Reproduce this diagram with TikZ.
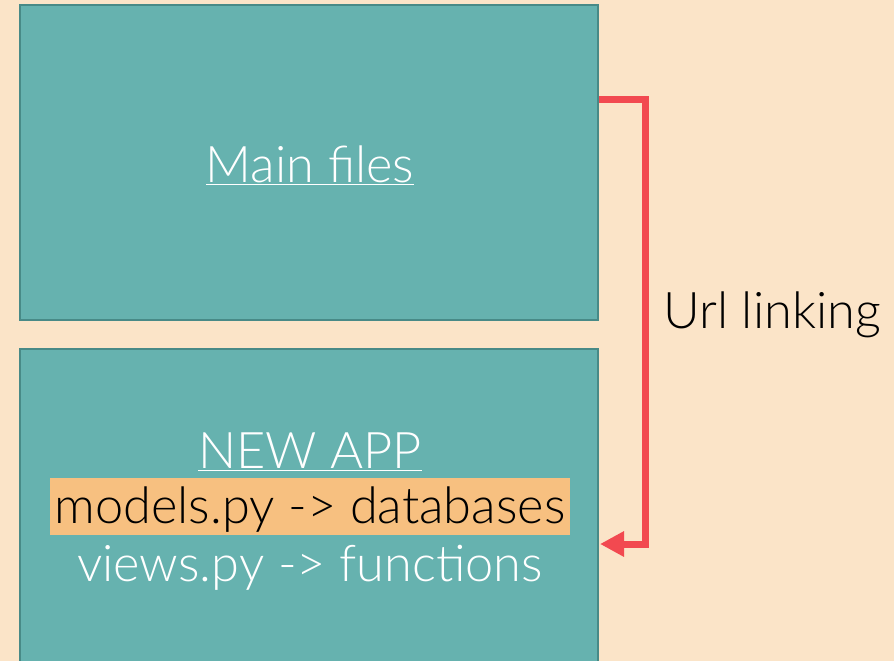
\documentclass[tikz,border=0pt]{standalone}
\usepackage{fontspec}
\setmainfont{Lato Light}
\usetikzlibrary{arrows.meta}
\definecolor{bgpaper}{RGB}{251,228,200}
\definecolor{tealbox}{RGB}{102,178,175}
\definecolor{tealedge}{RGB}{72,138,135}
\definecolor{linkred}{RGB}{242,73,80}
\definecolor{hilite}{RGB}{247,192,128}
\tikzset{
  folder/.style={draw=tealedge, line width=2pt, fill=tealbox, minimum width=578pt, inner sep=0pt},
  label text/.style={font=\fontsize{50.5}{60}\selectfont, inner sep=1pt},
}
\begin{document}
\begin{tikzpicture}[x=1pt, y=-1pt]
    \useasboundingbox (0,0) rectangle (894,661);
    \clip (0,0) rectangle (894,661);
    \fill[bgpaper] (0,0) rectangle (894,661);
    % the two folders
    \node[folder, minimum height=315pt] (mainbox) at (309,162.5) {};
    \node[folder, minimum height=331pt] (appbox) at (309,514.5) {};
    \node[label text, white] (mainfiles) at (310,165) {\underline{Main files}};
    \node[label text, white] (newapp) at (310,452) {\underline{NEW APP}};
    \node[label text, fill=hilite, minimum height=57pt, minimum width=520pt, text depth=3pt] (models) at (310,506.5) {models.py -> databases};
    \node[label text, white] (views) at (310,568) {views.py -> functions};
    % url linking
    \coordinate (linkout) at (mainbox.east |- 0,99);
    \coordinate (linkin) at (600,544);
    \draw[linkred, line width=7pt, -{Triangle[length=24pt, width=24pt]}] (linkout) -- (645,99) -- (645,544) -- (linkin);
    \node[label text] (urllink) at (772,315) {Url linking};
\end{tikzpicture}
\end{document}
